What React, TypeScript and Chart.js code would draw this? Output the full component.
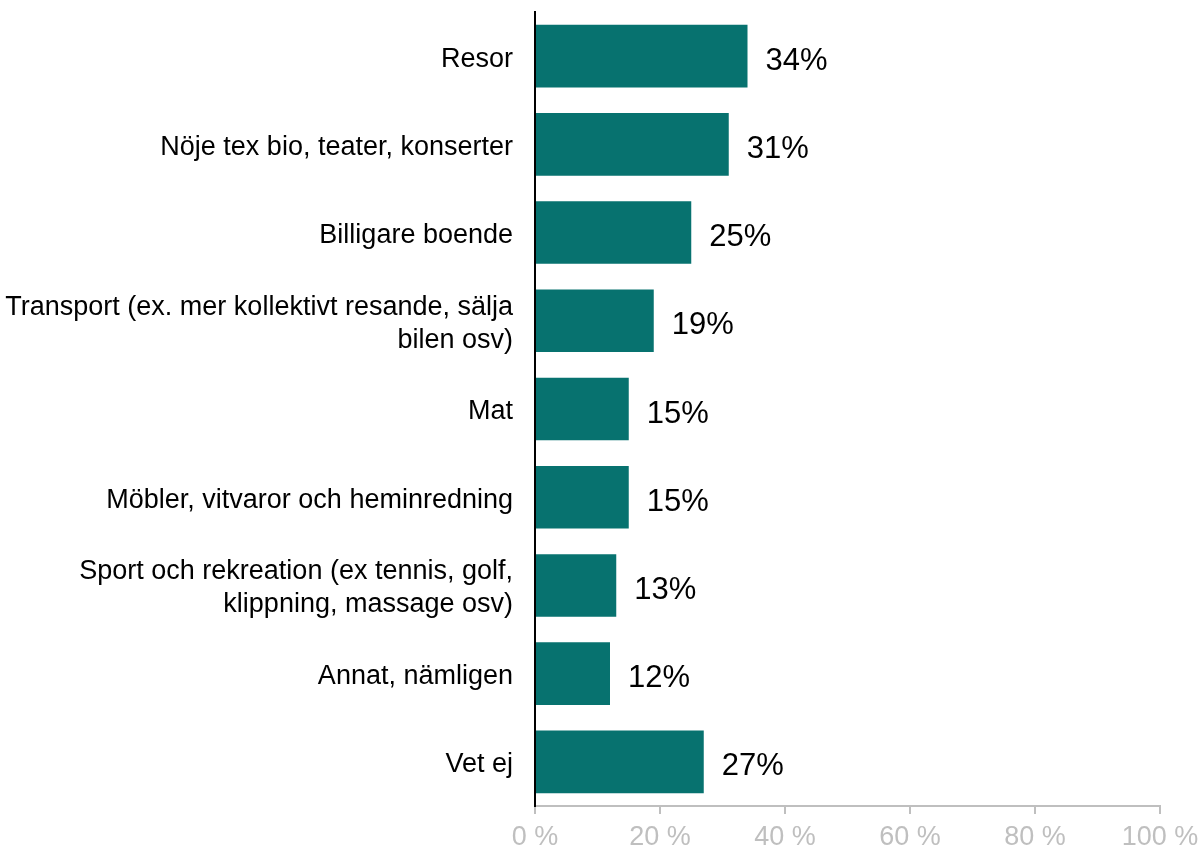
import React, { useEffect, useRef } from "react";
import { Chart, registerables } from "chart.js";

Chart.register(...registerables);

const categories: (string | string[])[] = [
  "Resor",
  "Nöje tex bio, teater, konserter",
  "Billigare boende",
  ["Transport (ex. mer kollektivt resande, sälja", "bilen osv)"],
  "Mat",
  "Möbler, vitvaror och heminredning",
  ["Sport och rekreation (ex tennis, golf,", "klippning, massage osv)"],
  "Annat, nämligen",
  "Vet ej",
];
const values = [34, 31, 25, 19, 15, 15, 13, 12, 27];
const valueLabels = ["34%", "31%", "25%", "19%", "15%", "15%", "13%", "12%", "27%"];
const xTicks = [0, 20, 40, 60, 80, 100];

const barColor = "#07726f";
const font = "'Liberation Sans', Arial, sans-serif";

const dataLabelPlugin = {
  id: "dataLabels",
  afterDatasetsDraw(chart: any) {
    const ctx = chart.ctx;
    const meta = chart.getDatasetMeta(0);
    ctx.save();
    ctx.font = `31px ${font}`;
    ctx.fillStyle = "#000000";
    ctx.textAlign = "left";
    ctx.textBaseline = "middle";
    meta.data.forEach((bar: any, i: number) => {
      ctx.fillText(valueLabels[i], bar.x + 18, bar.y + 5);
    });
    ctx.restore();
  },
};

export default function App() {
  const ref = useRef<HTMLCanvasElement>(null);
  useEffect(() => {
    if (!ref.current) return;
    const chart = new Chart(ref.current, {
      type: "bar",
      data: {
        labels: categories,
        datasets: [
          {
            data: values,
            backgroundColor: barColor,
            barPercentage: 0.71,
            categoryPercentage: 1,
          },
        ],
      },
      options: {
        indexAxis: "y",
        animation: false,
        responsive: false,
        maintainAspectRatio: false,
        layout: { padding: { top: 12, right: 43, left: 0, bottom: 0 } },
        plugins: { legend: { display: false }, tooltip: { enabled: false } },
        scales: {
          x: {
            min: 0,
            max: 100,
            afterBuildTicks: (scale: any) => {
              scale.ticks = xTicks.map((v) => ({ value: v }));
            },
            afterFit: (scale: any) => {
              scale.height = 48;
              scale.paddingLeft = 0;
              scale.paddingRight = 0;
            },
            border: { display: true, color: "#bfbfbf", width: 2 },
            grid: {
              drawOnChartArea: false,
              drawTicks: true,
              tickLength: 8,
              color: "#bfbfbf",
              lineWidth: 2,
            },
            ticks: {
              color: "#bfbfbf",
              font: { family: font, size: 27 },
              padding: 7,
              maxRotation: 0,
              callback: (v: any) => `${v} %`,
            },
          },
          y: {
            afterFit: (scale: any) => {
              scale.width = 535;
              scale.paddingTop = 0;
              scale.paddingBottom = 0;
            },
            border: { display: true, color: "#000000", width: 2 },
            grid: { display: false, drawTicks: false },
            ticks: {
              color: "#000000",
              font: { family: font, size: 27, lineHeight: 1.22 },
              padding: 22,
              labelOffset: 3,
              autoSkip: false,
            },
          },
        },
      },
      plugins: [dataLabelPlugin],
    });
    return () => chart.destroy();
  }, []);
  return (
    <div style={{ position: "absolute", left: 0, top: 0, width: 1203, height: 854, background: "#fff" }}>
      <canvas ref={ref} width={1203} height={854} style={{ width: 1203, height: 854 }} />
    </div>
  );
}
